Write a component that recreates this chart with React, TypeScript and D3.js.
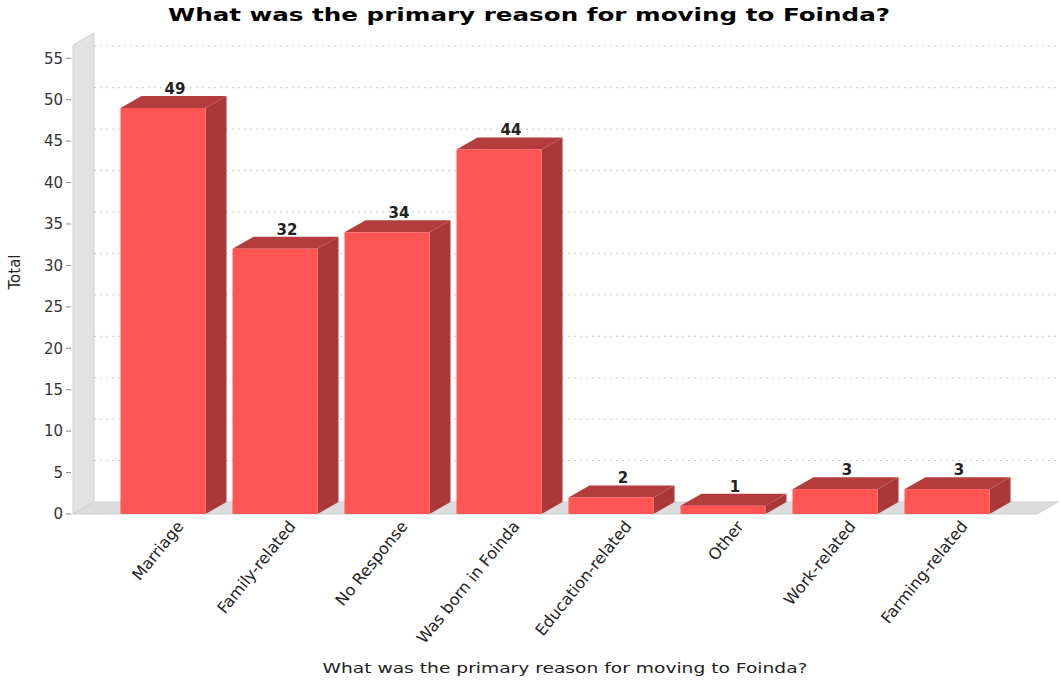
import React from "react";
import * as d3 from "d3";

const categories = [
  "Marriage",
  "Family-related",
  "No Response",
  "Was born in Foinda",
  "Education-related",
  "Other",
  "Work-related",
  "Farming-related",
];
const totals = [49, 32, 34, 44, 2, 1, 3, 3];
const yTicks = [0, 5, 10, 15, 20, 25, 30, 35, 40, 45, 50, 55];
const title = "What was the primary reason for moving to Foinda?";
const xTitle = "What was the primary reason for moving to Foinda?";
const yTitle = "Total";

const W = 1061;
const H = 684;
const left = 73;
const right = 1037;
const bottom = 514;
const top = 45;
const DX = 21;
const DY = 12;
const FONT = "'DejaVu Sans', Verdana, sans-serif";

export default function App() {
  const x = d3
    .scaleBand<string>()
    .domain(categories)
    .range([left, right])
    .paddingInner(0.241)
    .paddingOuter(0.424);
  const y = d3.scaleLinear().domain([0, 56.6]).range([bottom, top]);
  const bw = x.bandwidth();

  const poly = (pts: [number, number][]) => pts.map((p) => p.join(",")).join(" ");

  return (
    <svg
      width={W}
      height={H}
      style={{ position: "absolute", left: 0, top: 0, background: "#fff" }}
      fontFamily={FONT}
    >
      <rect x={0} y={0} width={W} height={H} fill="#fff" />
      <text
        x={529}
        y={21}
        textAnchor="middle"
        fontWeight="bold"
        fontSize={18}
        textLength={722}
        lengthAdjust="spacingAndGlyphs"
        fill="#000"
      >
        {title}
      </text>

      <polygon
        points={poly([
          [left, bottom],
          [left, top],
          [left + DX, top - DY],
          [left + DX, bottom - DY],
        ])}
        fill="#e2e2e2"
        stroke="#cfcfcf"
        strokeWidth={1}
      />
      <polygon
        points={poly([
          [left, bottom],
          [right, bottom],
          [right + DX, bottom - DY],
          [left + DX, bottom - DY],
        ])}
        fill="#dcdcdc"
        stroke="#cfcfcf"
        strokeWidth={1}
      />

      {yTicks
        .filter((t) => t > 0)
        .map((t) => (
          <line
            key={"g" + t}
            x1={left + DX}
            x2={right + DX}
            y1={y(t) - DY}
            y2={y(t) - DY}
            stroke="#c8c8c8"
            strokeWidth={1}
            strokeDasharray="2,4"
          />
        ))}

      {yTicks.map((t) => (
        <g key={"t" + t}>
          <line x1={66} x2={71} y1={y(t)} y2={y(t)} stroke="#888" strokeWidth={1} />
          <text
            x={63}
            y={y(t)}
            dy="0.35em"
            textAnchor="end"
            fontSize={15}
            fill="#333"
          >
            {t}
          </text>
        </g>
      ))}
      <text
        transform={`translate(20,272) rotate(-90)`}
        textAnchor="middle"
        fontSize={15}
        fill="#222"
      >
        {yTitle}
      </text>

      {categories.map((c, i) => {
        const x0 = x(c)!;
        const x1 = x0 + bw;
        const yt = y(totals[i]);
        return (
          <g key={c}>
            <polygon
              points={poly([
                [x0, yt],
                [x0 + DX, yt - DY],
                [x1 + DX, yt - DY],
                [x1, yt],
              ])}
              fill="#b53c3c"
            />
            <polygon
              points={poly([
                [x1, yt],
                [x1 + DX, yt - DY],
                [x1 + DX, bottom - DY],
                [x1, bottom],
              ])}
              fill="#ab3838"
            />
            <rect x={x0} y={yt} width={bw} height={bottom - yt} fill="#ff5555" />
            <text
              x={x0 + bw / 2 + 12}
              y={yt - DY - 2}
              textAnchor="middle"
              fontSize={15}
              fontWeight={600}
              fill="#222"
            >
              {totals[i]}
            </text>
            <text
              transform={`translate(${x0 + bw / 2 + 17},${523}) rotate(-51)`}
              textAnchor="end"
              dy="0.35em"
              fontSize={16}
              fill="#222"
            >
              {c}
            </text>
          </g>
        );
      })}

      <text
        x={565}
        y={673}
        textAnchor="middle"
        fontSize={14}
        textLength={485}
        lengthAdjust="spacingAndGlyphs"
        fill="#222"
      >
        {xTitle}
      </text>
    </svg>
  );
}
